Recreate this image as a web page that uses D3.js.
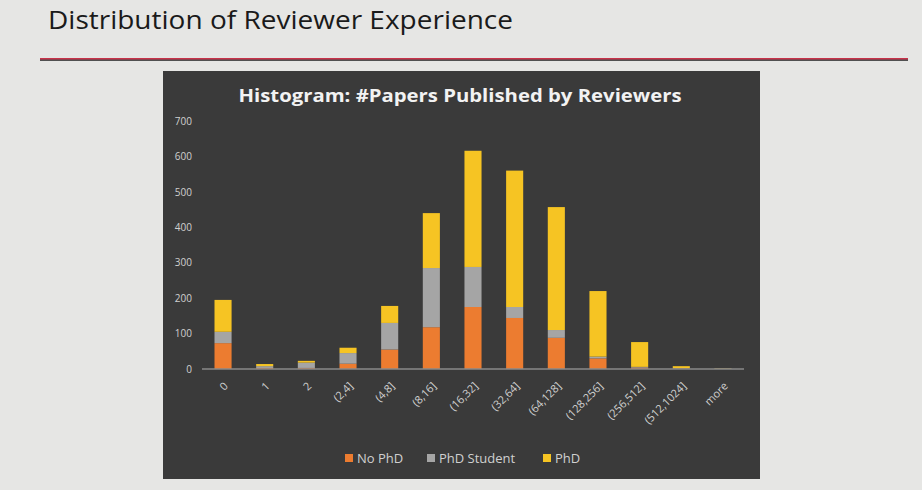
<!DOCTYPE html>
<html>
<head>
<meta charset="utf-8">
<script src="https://cdn.jsdelivr.net/npm/d3@7"></script>
<style>
  body { margin: 0; background: #e6e6e4; }
  svg { display: block; }
</style>
</head>
<body>
<svg width="922" height="490"></svg>
<script>
// bins of papers published
var categories = ["0", "1", "2", "(2,4]", "(4,8]", "(8,16]", "(16,32]", "(32,64]", "(64,128]", "(128,256]", "(256,512]", "(512,1024]", "more"];
var seriesNames = ["No PhD", "PhD Student", "PhD"];
var noPhd      = [73, 3, 3, 15, 55, 118, 175, 144, 88, 30, 4, 1, 0];
var phdStudent = [32, 5, 15, 30, 75, 167, 113, 31, 22, 5, 2, 1, 1];
var phd        = [90, 6, 5, 15, 48, 155, 328, 385, 347, 185, 70, 6, 1];
var yTicks = [0, 100, 200, 300, 400, 500, 600, 700];
var colors = ["#ec7c30", "#a5a5a5", "#f6c423"];

var rows = categories.map(function(c, i) {
  return { cat: c, "No PhD": noPhd[i], "PhD Student": phdStudent[i], "PhD": phd[i] };
});

var svg = d3.select("svg");

// slide heading
svg.append("text")
  .attr("x", 48).attr("y", 29)
  .attr("font-family", "Open Sans")
  .attr("font-size", 25)
  .attr("fill", "#1a1a1a")
  .attr("textLength", 465)
  .attr("lengthAdjust", "spacingAndGlyphs")
  .text("Distribution of Reviewer Experience");

svg.append("rect").attr("x", 40).attr("y", 58).attr("width", 868).attr("height", 3).attr("fill", "#505050");
svg.append("rect").attr("x", 40).attr("y", 58).attr("width", 868).attr("height", 1.5).attr("fill", "#c8324a");

// chart panel
svg.append("rect")
  .attr("x", 163).attr("y", 71)
  .attr("width", 597).attr("height", 408)
  .attr("fill", "#3a3a3a");

svg.append("text")
  .attr("x", 460).attr("y", 102)
  .attr("text-anchor", "middle")
  .attr("font-family", "Open Sans")
  .attr("font-weight", "bold")
  .attr("font-size", 17)
  .attr("fill", "#f2f2f2")
  .attr("textLength", 443)
  .attr("lengthAdjust", "spacingAndGlyphs")
  .text("Histogram: #Papers Published by Reviewers");

var x = d3.scaleBand().domain(categories).range([202, 744]).paddingInner(0.59).paddingOuter(0.3);
var y = d3.scaleLinear().domain([0, 700]).range([369, 121]);

var stack = d3.stack().keys(seriesNames)(rows);

svg.append("g")
  .selectAll("g")
  .data(stack)
  .enter().append("g")
  .attr("fill", function(d, i) { return colors[i]; })
  .selectAll("rect")
  .data(function(d) { return d; })
  .enter().append("rect")
  .attr("x", function(d) { return x(d.data.cat); })
  .attr("y", function(d) { return y(d[1]); })
  .attr("width", x.bandwidth())
  .attr("height", function(d) { return y(d[0]) - y(d[1]); });

// y axis labels
var yAxis = svg.append("g")
  .attr("transform", "translate(192,0)")
  .call(d3.axisLeft(y).tickValues(yTicks).tickSize(0).tickPadding(0));
yAxis.select(".domain").remove();
yAxis.selectAll("text")
  .attr("font-family", "Open Sans")
  .attr("font-size", 10)
  .attr("fill", "#d0d0d0");

// x axis
var xAxis = svg.append("g")
  .attr("transform", "translate(0,369)")
  .call(d3.axisBottom(x).tickSize(0).tickPadding(0));
xAxis.select(".domain").attr("stroke", "#8a8a8a").attr("stroke-width", 1.5)
  .attr("d", "M202,0H744");
xAxis.selectAll("text")
  .attr("font-family", "Open Sans")
  .attr("font-size", 11)
  .attr("fill", "#d0d0d0")
  .attr("text-anchor", "end")
  .attr("dy", "0.35em")
  .attr("transform", "translate(3,15) rotate(-45)");

// legend
var legendX = [345, 427, 543];
var legend = svg.append("g")
  .selectAll("g")
  .data(seriesNames)
  .enter().append("g")
  .attr("transform", function(d, i) { return "translate(" + legendX[i] + ",458)"; });
legend.append("rect")
  .attr("x", 0).attr("y", -4)
  .attr("width", 8).attr("height", 8)
  .attr("fill", function(d, i) { return colors[i]; });
legend.append("text")
  .attr("x", 12).attr("y", 0)
  .attr("dy", "0.35em")
  .attr("font-family", "Open Sans")
  .attr("font-size", 13)
  .attr("fill", "#d0d0d0")
  .text(function(d) { return d; });
</script>
</body>
</html>
